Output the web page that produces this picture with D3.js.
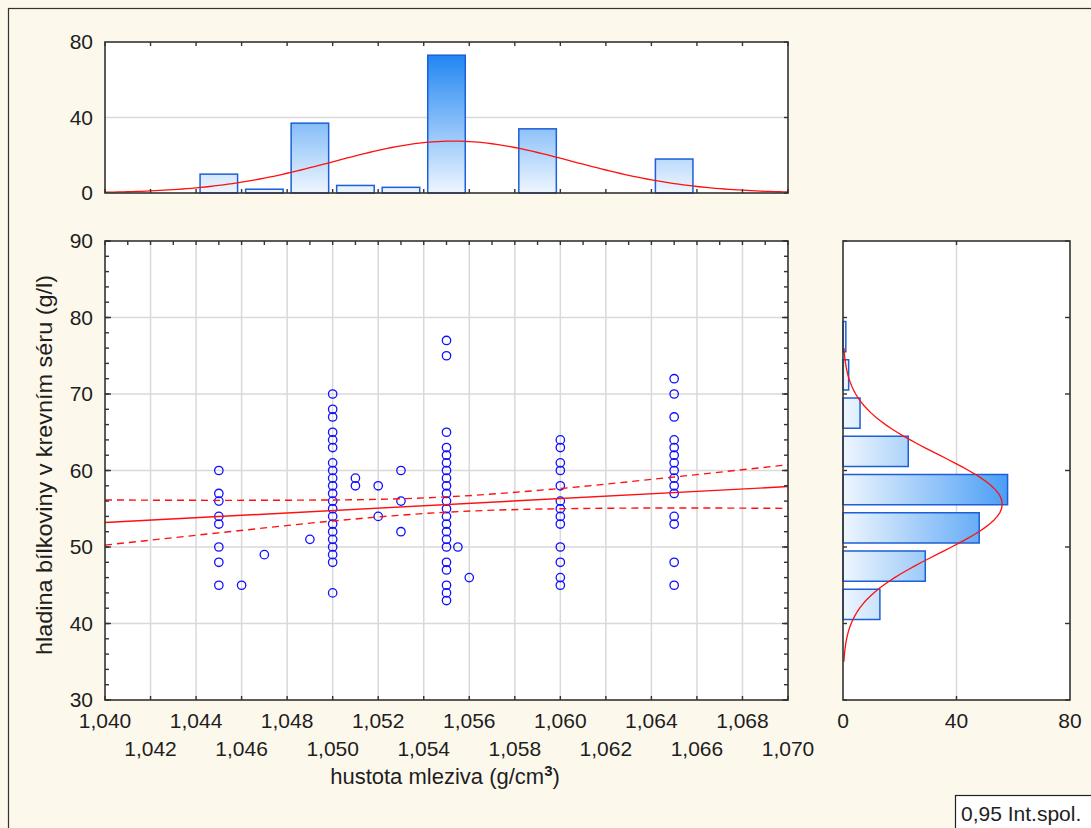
<!DOCTYPE html>
<html>
<head>
<meta charset="utf-8">
<script src="https://cdn.jsdelivr.net/npm/d3@7/dist/d3.min.js"></script>
<style>
  body { margin: 0; background: #fdf8ec; }
  text { font-family: "Liberation Sans", Arial, sans-serif; fill: #1e1e1e; }
</style>
</head>
<body>
<script>
// hustota mleziva vs. hladina bilkoviny -- scatter with marginal histograms

// scatter: one column of protein values per density value
var densityColumns = [1.045, 1.046, 1.047, 1.049, 1.050, 1.051, 1.052, 1.053, 1.055, 1.0555, 1.056, 1.060, 1.065];
var proteinByColumn = [
  [60, 57, 56, 54, 53, 50, 48, 45],
  [45],
  [49],
  [51],
  [70, 68, 67, 65, 64, 63, 61, 60, 59, 58, 57, 56, 55, 54, 53, 52, 51, 50, 49, 48, 44],
  [59, 58],
  [58, 54],
  [60, 56, 52],
  [77, 75, 65, 63, 62, 61, 60, 59, 58, 57, 56, 55, 54, 53, 52, 51, 50, 48, 47, 45, 44, 43],
  [50],
  [46],
  [64, 63, 61, 60, 58, 56, 55, 54, 53, 50, 48, 46, 45],
  [72, 70, 67, 64, 63, 62, 61, 60, 59, 58, 57, 54, 53, 48, 45]
];

// regression line and 0.95 confidence band
var regX = [1.040, 1.070];
var regY = [53.2, 57.9];
var bandX     = [1.040, 1.045, 1.050, 1.055, 1.060, 1.065, 1.070];
var bandUpper = [56.15, 56.10, 56.15, 56.55, 57.65, 59.15, 60.75];
var bandLower = [50.25, 51.85, 53.40, 54.55, 55.00, 55.10, 55.05];

// top histogram (density), bins of 0.002
var topBinCenters = [1.045, 1.047, 1.049, 1.051, 1.053, 1.055, 1.057, 1.059, 1.061, 1.063, 1.065];
var topBinCounts  = [10, 2, 37, 4, 3, 73, 0, 34, 0, 0, 18];
var topBinWidth = 0.002;
var topFit = { mean: 1.0553, sd: 0.00525, n: 181 };

// right histogram (protein), bins of 5
var sideBinLows   = [40, 45, 50, 55, 60, 65, 70, 75];
var sideBinCounts = [13, 29, 48, 58, 23, 6, 2, 1];
var sideBinWidth = 5;
var sideFit = { mean: 55.6, sd: 6.4, n: 180, from: 35, to: 76 };

// ticks
var xTickValues = [1.040, 1.042, 1.044, 1.046, 1.048, 1.050, 1.052, 1.054, 1.056, 1.058, 1.060, 1.062, 1.064, 1.066, 1.068, 1.070];
var yTickValues = [30, 40, 50, 60, 70, 80, 90];
var topTickValues = [0, 40, 80];
var sideTickValues = [0, 40, 80];

var W = 1091, H = 828;
var main = { left: 105, right: 788, top: 241, bottom: 700 };
var topBox = { top: 42, bottom: 193 };
var side = { left: 843, right: 1070 };
var gridColor = "#d9d9d9", frameColor = "#333";
var fs = 21;

var svg = d3.select("body").append("svg").attr("width", W).attr("height", H);

var x = d3.scaleLinear().domain([1.040, 1.070]).range([main.left, main.right]);
var y = d3.scaleLinear().domain([30, 90]).range([main.bottom, main.top]);
var yTop = d3.scaleLinear().domain([0, 80]).range([topBox.bottom, topBox.top]);
var xSide = d3.scaleLinear().domain([0, 80]).range([side.left, side.right]);

var fmtX = function(d) { return d3.format(".3f")(d).replace(".", ","); };

// outer border
svg.append("rect").attr("x", 8.5).attr("y", 8.5).attr("width", W + 20).attr("height", H + 20)
  .attr("fill", "none").attr("stroke", frameColor).attr("stroke-width", 1.2);

// gradients
var defs = svg.append("defs");
var gTop = defs.append("linearGradient").attr("id", "gTop").attr("gradientUnits", "userSpaceOnUse")
  .attr("x1", 0).attr("x2", 0).attr("y1", yTop(0)).attr("y2", yTop(80));
gTop.append("stop").attr("offset", 0).attr("stop-color", "#eef6fe");
gTop.append("stop").attr("offset", 1).attr("stop-color", "#0d7cf2");
var gSide = defs.append("linearGradient").attr("id", "gSide").attr("gradientUnits", "userSpaceOnUse")
  .attr("y1", 0).attr("y2", 0).attr("x1", xSide(0)).attr("x2", xSide(80));
gSide.append("stop").attr("offset", 0).attr("stop-color", "#eef6fe");
gSide.append("stop").attr("offset", 1).attr("stop-color", "#0d7cf2");

// plot backgrounds
function panel(x0, y0, x1, y1) {
  svg.append("rect").attr("x", x0).attr("y", y0).attr("width", x1 - x0).attr("height", y1 - y0).attr("fill", "#fff");
}
panel(main.left, topBox.top, main.right, topBox.bottom);
panel(main.left, main.top, main.right, main.bottom);
panel(side.left, main.top, side.right, main.bottom);

// grid main
var grid = svg.append("g").attr("stroke", gridColor).attr("stroke-width", 1.5);
grid.selectAll(".gx").data(xTickValues.slice(1, -1)).enter().append("line")
  .attr("x1", d => x(d)).attr("x2", d => x(d)).attr("y1", main.top).attr("y2", main.bottom);
grid.selectAll(".gy").data(yTickValues.slice(1, -1)).enter().append("line")
  .attr("y1", d => y(d)).attr("y2", d => y(d)).attr("x1", main.left).attr("x2", main.right);
// grid top / side
grid.append("line").attr("x1", main.left).attr("x2", main.right).attr("y1", yTop(40)).attr("y2", yTop(40));
grid.append("line").attr("x1", xSide(40)).attr("x2", xSide(40)).attr("y1", main.top).attr("y2", main.bottom);

// top histogram
var topBars = topBinCenters.map((c, i) => ({ c: c, n: topBinCounts[i] })).filter(d => d.n > 0);
svg.append("g").selectAll("rect").data(topBars).enter().append("rect")
  .attr("x", d => x(d.c - topBinWidth / 2) + 4)
  .attr("width", d => x(d.c + topBinWidth / 2) - x(d.c - topBinWidth / 2) - 8)
  .attr("y", d => yTop(d.n)).attr("height", d => yTop(0) - yTop(d.n))
  .attr("fill", "url(#gTop)").attr("stroke", "#1c5fd6").attr("stroke-width", 1.5);

function normalCount(v, fit, w) {
  var z = (v - fit.mean) / fit.sd;
  return fit.n * w * Math.exp(-0.5 * z * z) / (fit.sd * Math.sqrt(2 * Math.PI));
}
var topCurveX = x.ticks(120);
svg.append("path").datum(topCurveX)
  .attr("fill", "none").attr("stroke", "#ff1010").attr("stroke-width", 1.3)
  .attr("d", d3.line().x(d => x(d)).y(d => yTop(normalCount(d, topFit, topBinWidth))));

// right histogram
var sideBars = sideBinLows.map((lo, i) => ({ lo: lo, n: sideBinCounts[i] }));
svg.append("g").selectAll("rect").data(sideBars).enter().append("rect")
  .attr("x", xSide(0)).attr("width", d => xSide(d.n) - xSide(0))
  .attr("y", d => y(d.lo + sideBinWidth) + 4)
  .attr("height", d => y(d.lo) - y(d.lo + sideBinWidth) - 8)
  .attr("fill", "url(#gSide)").attr("stroke", "#1c5fd6").attr("stroke-width", 1.5);

var sideCurveY = d3.scaleLinear().domain([sideFit.from, sideFit.to]).ticks(100);
svg.append("path").datum(sideCurveY)
  .attr("fill", "none").attr("stroke", "#ff1010").attr("stroke-width", 1.3)
  .attr("d", d3.line().y(d => y(d)).x(d => xSide(normalCount(d, sideFit, sideBinWidth))));

// scatter
var points = [];
densityColumns.forEach(function(dx, i) {
  proteinByColumn[i].forEach(function(v) { points.push({ x: dx, y: v }); });
});
svg.append("g").selectAll("circle").data(points).enter().append("circle")
  .attr("cx", d => x(d.x)).attr("cy", d => y(d.y)).attr("r", 4.2)
  .attr("fill", "none").attr("stroke", "#1010ff").attr("stroke-width", 1.3);

// regression + band
svg.append("path").datum(regX.map((v, i) => [v, regY[i]]))
  .attr("fill", "none").attr("stroke", "#ff1010").attr("stroke-width", 1.4)
  .attr("d", d3.line().x(d => x(d[0])).y(d => y(d[1])));
[bandUpper, bandLower].forEach(function(arr) {
  svg.append("path").datum(bandX.map((v, i) => [v, arr[i]]))
    .attr("fill", "none").attr("stroke", "#ff1010").attr("stroke-width", 1.4)
    .attr("stroke-dasharray", "7,5")
    .attr("d", d3.line().curve(d3.curveMonotoneX).x(d => x(d[0])).y(d => y(d[1])));
});

// frames
function frame(x0, y0, x1, y1) {
  svg.append("rect").attr("x", x0).attr("y", y0).attr("width", x1 - x0).attr("height", y1 - y0)
    .attr("fill", "none").attr("stroke", frameColor).attr("stroke-width", 1.6);
}
frame(main.left, topBox.top, main.right, topBox.bottom);
frame(main.left, main.top, main.right, main.bottom);
frame(side.left, main.top, side.right, main.bottom);

// inward tick marks
var ticks = svg.append("g").attr("stroke", frameColor).attr("stroke-width", 1.4);
function vTicks(vals, sx, yEdge, len) {
  ticks.append("g").selectAll("line").data(vals).enter().append("line")
    .attr("x1", d => sx(d)).attr("x2", d => sx(d)).attr("y1", yEdge).attr("y2", yEdge + len);
}
function hTicks(vals, sy, xEdge, len) {
  ticks.append("g").selectAll("line").data(vals).enter().append("line")
    .attr("y1", d => sy(d)).attr("y2", d => sy(d)).attr("x1", xEdge).attr("x2", xEdge + len);
}
vTicks(x.ticks(30), x, main.top, 4);
vTicks(xTickValues, x, main.bottom, -4);
hTicks(y.ticks(30), y, main.left, 4);
hTicks(y.ticks(30), y, main.right, -4);
hTicks(yTickValues, y, main.left, 6);
hTicks(yTickValues, y, main.right, -6);
vTicks(xTickValues, x, topBox.top, 4);
vTicks(xTickValues, x, topBox.bottom, -4);
hTicks(topTickValues, yTop, main.right, -4);
vTicks([40], xSide, main.top, 4);
vTicks([40], xSide, main.bottom, -4);
hTicks(yTickValues, y, side.left, 4);
hTicks(yTickValues, y, side.right, -5);

// tick labels
var labels = svg.append("g").attr("font-size", fs);
labels.selectAll(".yl").data(yTickValues).enter().append("text")
  .attr("x", main.left - 12).attr("y", d => y(d)).attr("dy", "0.35em")
  .attr("text-anchor", "end").text(d => d);
labels.selectAll(".tl").data(topTickValues).enter().append("text")
  .attr("x", main.left - 12).attr("y", d => yTop(d)).attr("dy", "0.35em")
  .attr("text-anchor", "end").text(d => d);
labels.selectAll(".xl").data(xTickValues).enter().append("text")
  .attr("x", d => x(d)).attr("y", (d, i) => i % 2 === 0 ? 721 : 749).attr("dy", "0.35em")
  .attr("text-anchor", "middle").text(fmtX);
labels.selectAll(".sl").data(sideTickValues).enter().append("text")
  .attr("x", d => xSide(d)).attr("y", 721).attr("dy", "0.35em")
  .attr("text-anchor", "middle").text(d => d);

// axis titles
svg.append("text").attr("transform", "translate(52,465) rotate(-90)")
  .attr("text-anchor", "middle").attr("font-size", 22)
  .attr("textLength", 380).attr("lengthAdjust", "spacingAndGlyphs")
  .text("hladina bílkoviny v krevním séru (g/l)");
var xt = svg.append("text").attr("x", 445).attr("y", 784).attr("text-anchor", "middle").attr("font-size", 22);
xt.append("tspan").text("hustota mleziva (g/cm");
xt.append("tspan").attr("dy", -8).attr("font-size", 15).attr("font-weight", "bold").text("3");
xt.append("tspan").attr("dy", 8).text(")");

// legend box
svg.append("rect").attr("x", 955.5).attr("y", 795.5).attr("width", 150).attr("height", 40)
  .attr("fill", "#fff").attr("stroke", "#222").attr("stroke-width", 1.2);
svg.append("text").attr("x", 961).attr("y", 821).attr("font-size", 21).text("0,95 Int.spol.");
</script>
</body>
</html>
